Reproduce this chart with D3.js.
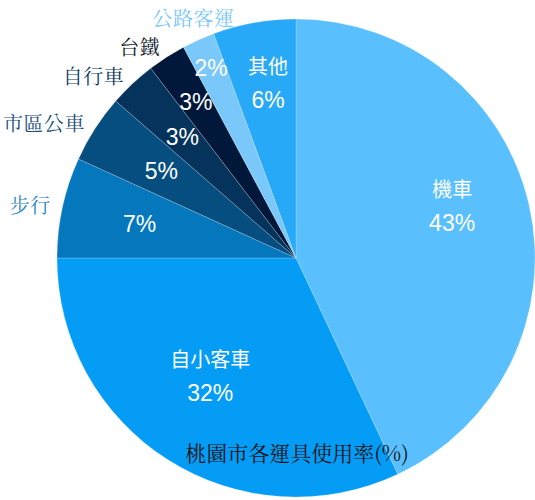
<!DOCTYPE html>
<html>
<head>
<meta charset="utf-8">
<script src="https://cdn.jsdelivr.net/npm/d3@7/dist/d3.min.js"></script>
<style>
  body { margin: 0; background: #fff; }
  .pct { font-family: "Liberation Sans", Arial, sans-serif; font-size: 23px; fill: #fff; }
  .name-in { font-family: "Noto Sans CJK TC", sans-serif; font-size: 20px; fill: #fff; }
  .name-out { font-family: "Noto Serif CJK TC", "Noto Sans CJK TC", serif; font-size: 20px; letter-spacing: 0.5px; }
  .title { font-family: "Noto Serif CJK TC", "Noto Sans CJK TC", serif; font-size: 21px; fill: #111; }
</style>
</head>
<body>
<div id="chart"></div>
<script>
// slices, clockwise from 12 o'clock
const categories = ["機車", "自小客車", "步行", "市區公車", "自行車", "台鐵", "公路客運", "其他"];
const shares = [43, 32, 6.8, 4.6, 3.2, 2.6, 2.2, 5.6];
const colors = ["#59bffd", "#059cf6", "#0577bd", "#064e80", "#06335c", "#01183a", "#7ac8fa", "#27a9f7"];
const labelColors = ["#59bffd", "#059cf6", "#2a83c4", "#1c4e7e", "#0e3a63", "#121a2c", "#7ac8fa", "#27a9f7"];
const chartTitle = "桃園市各運具使用率(%)";

const W = 535, H = 500;
const cx = 296, cy = 258, radius = 239;
const pctRadius = 160, outRadius = 251;
const lineGap = 34;

const svg = d3.select("#chart").append("svg")
    .attr("width", W)
    .attr("height", H);

const g = svg.append("g").attr("transform", `translate(${cx},${cy})`);

const data = categories.map((c, i) => ({ name: c, value: shares[i], color: colors[i], lc: labelColors[i] }));

const pie = d3.pie().value(d => d.value).sort(null);
const arcs = pie(data);
const arc = d3.arc().innerRadius(0).outerRadius(radius);

g.selectAll("path.slice")
    .data(arcs)
    .enter()
  .append("path")
    .attr("class", "slice")
    .attr("d", arc)
    .attr("fill", d => d.data.color)
    .attr("stroke", "rgba(255,255,255,0.35)")
    .attr("stroke-width", 0.6);

// point on ray at angle a (clockwise from top)
const polar = (a, r) => [r * Math.sin(a), -r * Math.cos(a)];
const angleOf = (x, y) => {
    let a = Math.atan2(x, -y);
    return a < 0 ? a + 2 * Math.PI : a;
};

// percent labels: centroid ring, pushed outward if stacking too close to previous one
let prev = null;
arcs.forEach(d => {
    const mid = (d.startAngle + d.endAngle) / 2;
    let r = pctRadius;
    let [x, y] = polar(mid, r);
    if (prev && Math.abs(x - prev[0]) < 50) {
        while (Math.abs(y - prev[1]) < lineGap && r < radius) {
            r += 1;
            [x, y] = polar(mid, r);
        }
    }
    d.px = x; d.py = y;
    prev = [x, y];
});

g.selectAll("text.pct")
    .data(arcs)
    .enter()
  .append("text")
    .attr("class", "pct")
    .attr("x", d => d.px)
    .attr("y", d => d.py)
    .attr("text-anchor", "middle")
    .attr("dominant-baseline", "central")
    .text(d => Math.round(d.data.value) + "%");

// name goes inside if its box above the percent still sits in the slice
function fitsInside(d) {
    const w = d.data.name.length * 20, h = 20;
    const nx = d.px, ny = d.py - lineGap - 1;
    const corners = [[nx - w / 2, ny - h / 2], [nx + w / 2, ny - h / 2], [nx - w / 2, ny + h / 2], [nx + w / 2, ny + h / 2]];
    return corners.every(([x, y]) => {
        const a = angleOf(x, y);
        return a > d.startAngle && a < d.endAngle && Math.hypot(x, y) < radius;
    });
}

arcs.forEach(d => {
    if (fitsInside(d)) {
        g.append("text")
            .attr("class", "name-in")
            .attr("x", d.px)
            .attr("y", d.py - lineGap - 1)
            .attr("text-anchor", "middle")
            .attr("dominant-baseline", "central")
            .text(d.data.name);
    } else {
        const mid = (d.startAngle + d.endAngle) / 2;
        const [x, y] = polar(mid, outRadius);
        const s = Math.sin(mid);
        const anchor = Math.abs(s) < 0.45 ? "middle" : (s < 0 ? "end" : "start");
        g.append("text")
            .attr("class", "name-out")
            .attr("x", x)
            .attr("y", anchor === "middle" ? y - 11 : y)
            .attr("text-anchor", anchor)
            .attr("dominant-baseline", "central")
            .attr("fill", d.data.lc)
            .text(d.data.name);
    }
});

svg.append("text")
    .attr("class", "title")
    .attr("x", cx + 1)
    .attr("y", 452)
    .attr("text-anchor", "middle")
    .attr("dominant-baseline", "central")
    .text(chartTitle);
</script>
</body>
</html>
